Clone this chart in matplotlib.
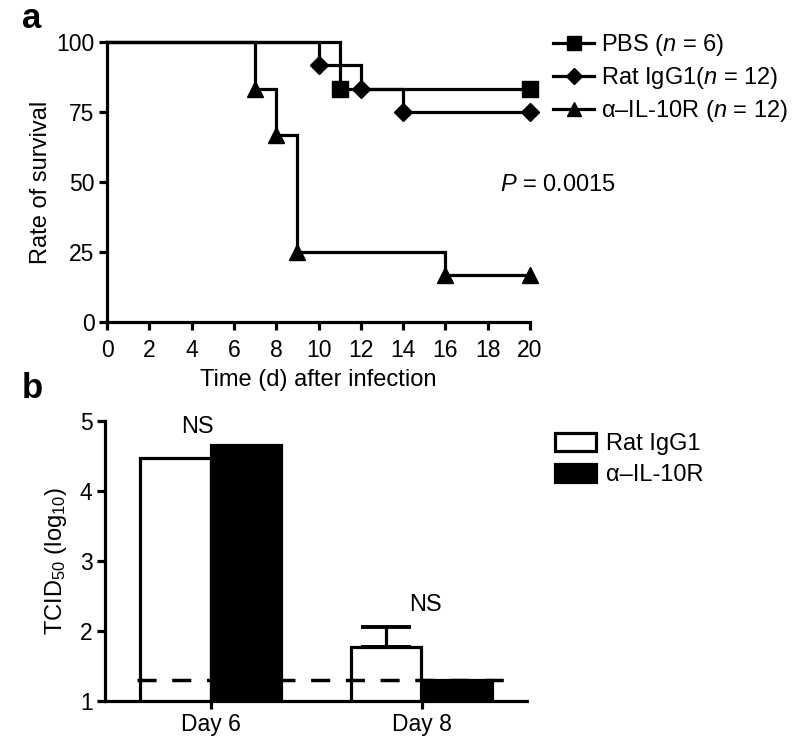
import matplotlib
matplotlib.use("Agg")
import matplotlib.pyplot as plt
import numpy as np
from matplotlib.lines import Line2D
from matplotlib.patches import Patch

plt.rcParams['font.family'] = ['Liberation Sans', 'DejaVu Sans']
plt.rcParams['mathtext.fontset'] = 'custom'
plt.rcParams['mathtext.rm'] = 'Liberation Sans'
plt.rcParams['mathtext.it'] = 'Liberation Sans:italic'

# ---- Panel a data (Kaplan-Meier survival) ----
pbs_t = [0, 11, 20]
pbs_s = [100, 83.3, 83.3]
rat_t = [0, 10, 12, 14, 20]
rat_s = [100, 91.7, 83.3, 75, 75]
il_t = [0, 7, 8, 9, 16, 20]
il_s = [100, 83.3, 66.7, 25, 16.7, 16.7]
surv_labels = ['PBS ($n$ = 6)', 'Rat IgG1($n$ = 12)', 'α–IL-10R ($n$ = 12)']
x_ticks_a = list(range(0, 21, 2))
y_ticks_a = [0, 25, 50, 75, 100]

# ---- Panel b data ----
days = ['Day 6', 'Day 8']
rat_titer = [4.47, 1.77]
il_titer = [4.66, 1.30]
rat_err = [0.0, 0.29]
detect_limit = 1.3
bar_labels = ['Rat IgG1', 'α–IL-10R']
ns_y = [4.91, 2.37]

LW = 2.3
FS_TICK = 16.5
FS_LAB = 17

fig = plt.figure(figsize=(8.0, 7.47), dpi=100)

# ---------------- Panel a ----------------
ax1 = fig.add_axes([107/800, 1-322/747, 423/800, 280/747])
series = [(pbs_t, pbs_s, 's', 11), (rat_t, rat_s, 'D', 9.5), (il_t, il_s, '^', 11.5)]
handles = []
for (t, s, m, ms), lab in zip(series, surv_labels):
    ax1.step(t, s, where='post', color='black', lw=LW, clip_on=False, zorder=3,
             solid_joinstyle='miter')
    ax1.plot(t[1:], s[1:], linestyle='none', marker=m, ms=ms, color='black',
             clip_on=False, zorder=4)
    handles.append(Line2D([0], [0], color='black', lw=LW, marker=m, ms=ms - 1, label=lab))

ax1.set_xlim(0, 20)
ax1.set_ylim(0, 100)
ax1.set_xticks(x_ticks_a)
ax1.set_yticks(y_ticks_a)
for sp in ['top', 'right']:
    ax1.spines[sp].set_visible(False)
for sp in ['left', 'bottom']:
    ax1.spines[sp].set_linewidth(LW)
ax1.tick_params(width=LW, length=6, labelsize=FS_TICK, direction='out', pad=3)
ax1.tick_params(axis='x', pad=6)
ax1.set_xlabel('Time (d) after infection', fontsize=FS_LAB, labelpad=5)
ax1.set_ylabel('Rate of survival', fontsize=FS_LAB, labelpad=3)
ax1.text(500/800, 1-185/747, '$P$ = 0.0015', transform=fig.transFigure,
         fontsize=FS_LAB, va='center', ha='left')
leg1 = ax1.legend(handles=handles, loc='upper left', bbox_to_anchor=(553/800, 1-32/747),
                  bbox_transform=fig.transFigure, frameon=False, fontsize=FS_LAB,
                  handlelength=1.75, handletextpad=0.3, labelspacing=0.3,
                  borderaxespad=0, borderpad=0)

# ---------------- Panel b ----------------
ax2 = fig.add_axes([105/800, 1-701/747, 422/800, 280/747])
x = np.arange(len(days))
w = 0.333
ax2.bar(x - w/2, rat_titer, width=w, color='white', edgecolor='black', lw=LW, zorder=2)
ax2.bar(x + w/2, il_titer, width=w, color='black', edgecolor='black', lw=LW, zorder=2)
for xi, v, e in zip(x - w/2, rat_titer, rat_err):
    if e > 0:
        ax2.errorbar([xi], [v], yerr=[[0], [e]], fmt='none', ecolor='black',
                     elinewidth=LW, capsize=18, capthick=LW+0.5, zorder=3)
ax2.hlines(detect_limit, -0.35, 1.455, colors='black', lw=2.5,
           linestyles=(0, (5.5, 4.5)), zorder=4)
for xi, yv in zip(x, ns_y):
    ax2.text(xi - 0.06 + 0.08 * xi, yv, 'NS', ha='center', va='center', fontsize=FS_LAB)

ax2.set_xlim(-0.5, 1.5)
ax2.set_ylim(1, 5)
ax2.set_xticks(x)
ax2.set_xticklabels(days)
ax2.set_yticks([1, 2, 3, 4, 5])
for sp in ['top', 'right']:
    ax2.spines[sp].set_visible(False)
for sp in ['left', 'bottom']:
    ax2.spines[sp].set_linewidth(LW)
ax2.tick_params(width=LW, length=6, labelsize=FS_TICK, direction='out', pad=3)
ax2.set_ylabel(r'TCID$_{\mathregular{50}}$ (log$_{\mathregular{10}}$)', fontsize=FS_LAB, labelpad=8)
bh = [Patch(facecolor='white', edgecolor='black', lw=LW, label=bar_labels[0]),
      Patch(facecolor='black', edgecolor='black', lw=LW, label=bar_labels[1])]
ax2.legend(handles=bh, loc='upper left', bbox_to_anchor=(555/800, 1-433/747),
           bbox_transform=fig.transFigure, frameon=False, fontsize=FS_LAB,
           handlelength=1.75, handleheight=0.8, handletextpad=0.4, labelspacing=0.35,
           borderaxespad=0, borderpad=0)

fig.text(22/800, 1-18/747, 'a', fontsize=25, fontweight='bold', va='center', ha='left')
fig.text(22/800, 1-388/747, 'b', fontsize=25, fontweight='bold', va='center', ha='left')

fig.savefig('out.png', dpi=100)
